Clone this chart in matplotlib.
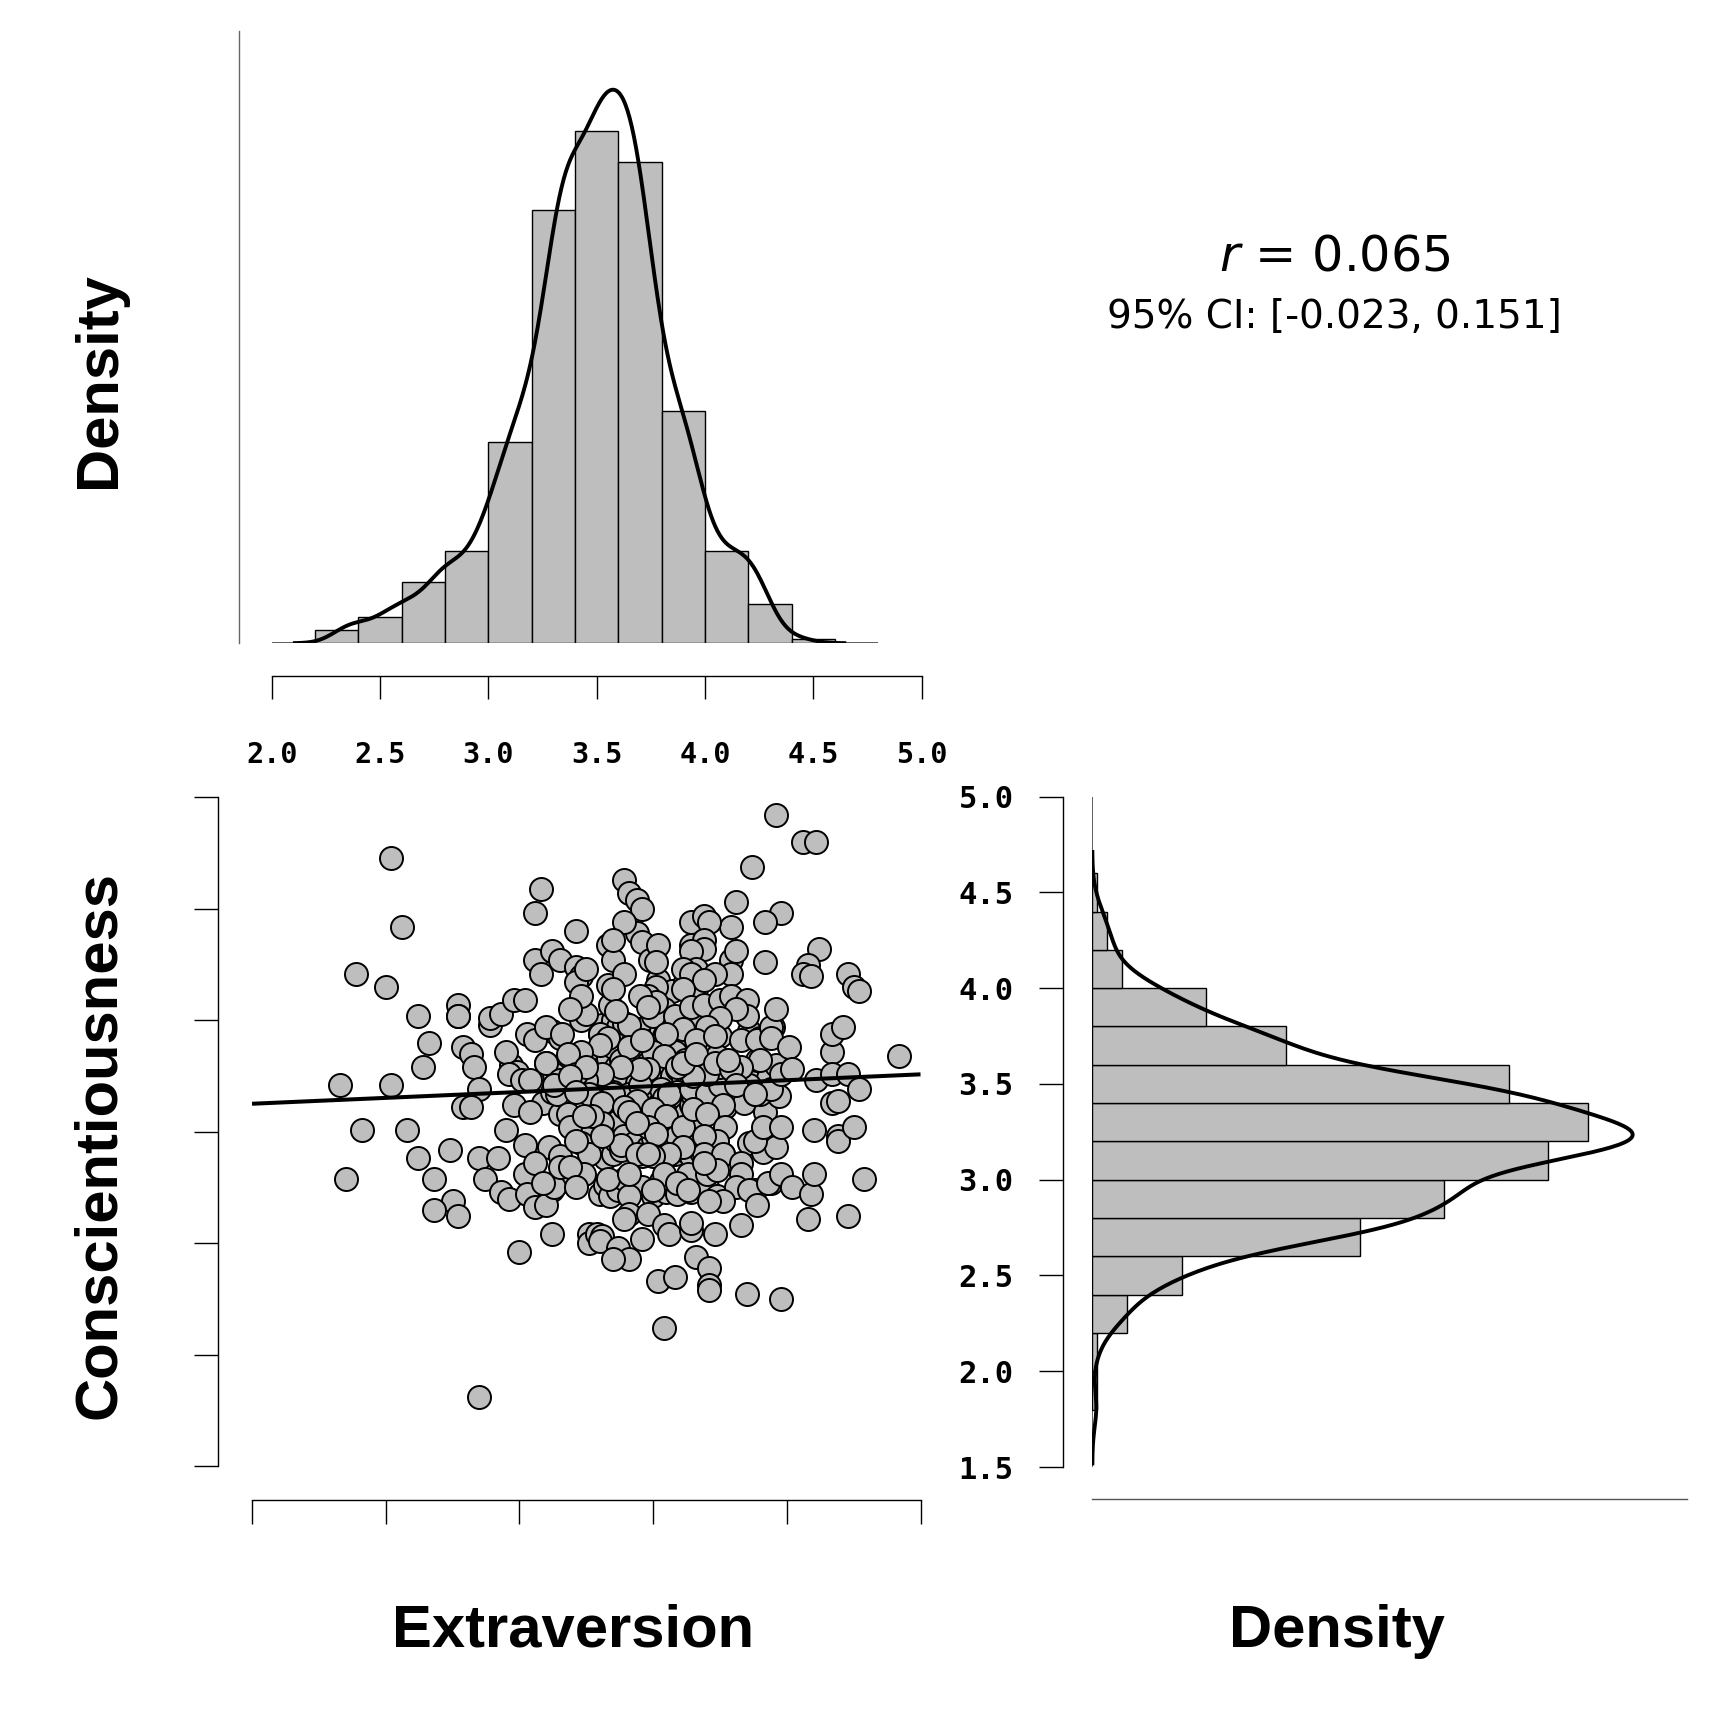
import numpy as np
import matplotlib
matplotlib.use("Agg")
import matplotlib.pyplot as plt

# ---------------- data (Extraversion = x, Conscientiousness = y), N = 500 ----------------
# dense core (mostly hidden under other points)
core1_x = [3.33, 3.52, 3.57, 3.62, 3.66]
core1_y = [3.66, 3.68, 3.63, 3.67, 3.64]
core2_x = [3.12, 3.15,
           3.30, 3.31, 3.33, 3.34, 3.35, 3.36, 3.37, 3.38, 3.39,
           3.43, 3.45, 3.47, 3.49, 3.50, 3.52, 3.53, 3.54, 3.55, 3.56, 3.57, 3.58, 3.59,
           3.61, 3.62, 3.63, 3.64, 3.65, 3.66, 3.68, 3.69, 3.71, 3.73, 3.75,
           3.86, 3.90, 3.95]
core2_y = [3.45, 3.42,
           3.44, 3.48, 3.41, 3.46, 3.50, 3.43, 3.47, 3.42, 3.49,
           3.42, 3.46, 3.44, 3.49, 3.41, 3.51, 3.45, 3.43, 3.48, 3.42, 3.47, 3.50, 3.44,
           3.43, 3.47, 3.41, 3.49, 3.45, 3.42, 3.48, 3.44, 3.46, 3.50, 3.43,
           3.45, 3.42, 3.47]
core3_x = [3.10, 3.13, 3.16,
           3.29, 3.30, 3.31, 3.32, 3.33, 3.34, 3.35, 3.36, 3.37, 3.38, 3.39,
           3.42, 3.44, 3.45, 3.47, 3.48, 3.49, 3.50, 3.51, 3.52, 3.53, 3.54, 3.55, 3.56, 3.57, 3.58, 3.59,
           3.61, 3.62, 3.63, 3.64, 3.65, 3.66, 3.67, 3.68, 3.70, 3.72, 3.74, 3.76,
           3.85, 3.89, 3.93, 3.96]
core3_y = [3.31, 3.26, 3.22,
           3.27, 3.35, 3.23, 3.30, 3.33, 3.25, 3.38, 3.29, 3.21, 3.32, 3.24,
           3.29, 3.22, 3.34, 3.27, 3.31, 3.21, 3.37, 3.28, 3.24, 3.33, 3.26, 3.23, 3.30, 3.25, 3.36, 3.28,
           3.24, 3.32, 3.28, 3.22, 3.31, 3.26, 3.36, 3.27, 3.30, 3.23, 3.34, 3.29,
           3.27, 3.32, 3.24, 3.30]
core4_x = [3.09, 3.12, 3.15,
           3.27, 3.28, 3.29, 3.30, 3.31, 3.32, 3.33, 3.34, 3.35, 3.36, 3.37, 3.38, 3.39,
           3.41, 3.43, 3.44, 3.46, 3.47, 3.48, 3.49, 3.50, 3.51, 3.52, 3.53, 3.54, 3.55, 3.56, 3.57, 3.58, 3.59,
           3.61, 3.62, 3.63, 3.64, 3.65, 3.66, 3.67, 3.69, 3.71, 3.73, 3.75, 3.77,
           3.84, 3.88, 3.92, 3.97]
core4_y = [3.13, 3.18, 3.08,
           3.16, 3.10, 3.19, 3.06, 3.14, 3.12, 3.17, 3.08, 3.18, 3.13, 3.05, 3.15, 3.11,
           3.17, 3.09, 3.14, 3.19, 3.07, 3.13, 3.18, 3.10, 3.16, 3.12, 3.19, 3.15, 3.06, 3.17, 3.04, 3.14, 3.18,
           3.15, 3.08, 3.18, 3.12, 3.16, 3.06, 3.19, 3.13, 3.10, 3.17, 3.14, 3.11,
           3.13, 3.17, 3.09, 3.16]
core5_x = [3.11, 3.15,
           3.28, 3.30, 3.32, 3.33, 3.35, 3.36, 3.38, 3.39,
           3.43, 3.46, 3.48, 3.50, 3.52, 3.53, 3.54, 3.55, 3.56, 3.58, 3.59,
           3.61, 3.63, 3.64, 3.66, 3.68, 3.70, 3.73, 3.76,
           3.86, 3.91, 3.96]
core5_y = [2.93, 2.89,
           2.91, 2.97, 2.88, 2.94, 2.90, 2.96, 2.92, 2.98,
           2.95, 2.89, 2.93, 2.97, 2.91, 2.88, 2.96, 2.92, 2.94, 2.90, 2.98,
           2.92, 2.96, 2.89, 2.94, 2.91, 2.97, 2.93, 2.90,
           2.95, 2.91, 2.93]
core6_x = [3.12, 3.16, 3.30, 3.32, 3.34, 3.36, 3.37, 3.39,
           3.46, 3.50, 3.53, 3.55, 3.57, 3.59, 3.62, 3.64, 3.67, 3.70, 3.74, 3.88, 3.94]
core6_y = [2.74, 2.78, 2.72, 2.76, 2.71, 2.77, 2.74, 2.79,
           2.75, 2.71, 2.78, 2.73, 2.76, 2.72, 2.77, 2.73, 2.79, 2.75, 2.71, 2.74, 2.77]

# visible points, by region
left_x = [2.52, 2.56, 2.39, 2.50, 2.62, 2.77, 2.77, 2.66, 2.79, 2.82, 2.83, 2.64, 2.33, 2.52, 2.85,
          2.79, 2.41, 2.58, 2.35, 2.62, 2.74, 2.68, 2.75, 2.68, 2.77, 2.85, 2.92, 2.87, 2.93, 2.96,
          2.85, 3.00, 2.89, 2.89, 2.93, 2.98, 3.02, 2.82, 2.95, 3.02, 2.77, 2.97, 2.98]
left_y = [4.23, 3.92, 3.71, 3.65, 3.52, 3.57, 3.52, 3.40, 3.38, 3.35, 3.29, 3.29, 3.21, 3.21, 3.19,
          3.11, 3.01, 3.01, 2.79, 2.88, 2.92, 2.79, 2.69, 2.65, 2.62, 2.88, 2.88, 2.79, 2.73, 2.70,
          1.81, 2.46, 3.48, 3.51, 3.53, 3.59, 3.59, 3.11, 3.01, 2.94, 3.52, 3.30, 3.12]
upmid_x = [3.08, 3.06, 3.21, 3.06, 3.12, 3.08, 3.15, 3.21, 3.23, 3.21, 3.25, 3.33, 3.35, 3.39, 3.44,
           3.46, 3.49, 3.39, 3.41, 3.44, 3.46, 3.39, 3.52, 3.51, 3.35]
upmid_y = [4.09, 3.98, 3.90, 3.77, 3.81, 3.71, 3.77, 3.74, 3.70, 3.67, 3.73, 3.84, 3.77, 3.71, 3.89,
           3.85, 3.77, 4.13, 4.07, 4.04, 4.00, 3.94, 3.84, 3.76, 3.86]
upright_x = [3.96, 4.06, 4.11, 3.87, 3.81, 3.98, 3.92, 3.79, 3.64, 3.69, 3.71, 3.64, 3.69, 3.69, 3.64,
             3.79, 3.81, 3.79, 3.92, 4.12, 4.08, 4.06, 4.09, 4.23, 4.25, 4.27, 3.66, 3.61, 3.64, 3.73, 3.69]
upright_y = [4.42, 4.30, 4.30, 4.19, 4.03, 3.98, 3.94, 3.92, 3.94, 3.97, 3.94, 3.84, 3.86, 3.82, 3.81,
             3.77, 3.81, 3.71, 3.76, 3.82, 3.75, 3.71, 3.70, 3.71, 3.65, 3.63, 3.73, 3.73, 3.71, 3.71, 3.68]
band1_x = [3.61, 3.51, 3.48, 3.54, 3.50, 3.58, 3.64, 3.69, 3.75, 3.79, 3.85, 3.85, 3.81, 3.75, 3.70,
           3.61, 3.55, 3.66, 3.73, 3.83, 3.89, 3.94, 3.94, 3.96, 4.01, 3.51, 3.41, 3.34, 3.35, 3.23,
           3.25, 3.30, 3.33, 3.41, 3.50, 3.54, 4.17, 4.17, 4.21, 3.23, 3.03, 3.06, 3.10, 3.16, 3.19,
           3.36, 3.45, 3.48, 3.46, 3.30, 3.23, 3.18, 2.95]
band1_y = [3.64, 3.65, 3.61, 3.55, 3.52, 3.52, 3.56, 3.57, 3.59, 3.61, 3.59, 3.52, 3.55, 3.51, 3.47,
           3.46, 3.44, 3.41, 3.43, 3.41, 3.41, 3.47, 3.42, 3.55, 3.38, 3.58, 3.48, 3.57, 3.64, 3.50,
           3.53, 3.44, 3.42, 3.38, 3.36, 3.34, 3.36, 3.44, 3.47, 3.61, 3.44, 3.41, 3.47, 3.44, 3.55,
           3.54, 3.61, 3.56, 3.41, 3.39, 3.36, 3.35, 3.36]
band2_x = [3.48, 3.45, 3.56, 3.64, 3.70, 3.75, 3.81, 3.86, 3.90, 3.94, 3.98, 4.02, 4.11, 3.90, 3.83,
           3.75, 3.70, 3.65, 3.59, 3.61, 3.66, 3.73, 3.79, 3.45, 3.38, 3.31, 3.25, 3.35, 3.44, 3.78,
           3.81, 3.76, 3.88, 4.17, 4.23, 4.27, 4.17, 4.19, 4.42, 3.10, 2.99, 2.96, 3.01, 3.04, 3.15,
           3.21, 3.25, 3.14, 3.13, 3.26, 3.31, 3.39, 3.19, 3.21]
band2_y = [3.28, 3.21, 3.17, 3.19, 3.17, 3.21, 3.25, 3.21, 3.17, 3.19, 3.26, 3.28, 3.23, 3.32, 3.29,
           3.29, 3.26, 3.25, 3.29, 3.31, 3.35, 3.31, 3.28, 3.28, 3.29, 3.26, 3.23, 3.17, 3.14, 3.32,
           3.21, 3.12, 3.17, 3.26, 3.26, 3.19, 3.13, 3.14, 3.34, 3.31, 3.27, 3.26, 3.23, 3.23, 3.23,
           3.26, 3.29, 3.17, 3.21, 3.17, 3.13, 3.11, 3.25, 3.18]
band3_x = [3.50, 3.55, 3.48, 3.51, 3.61, 3.65, 3.70, 3.77, 3.74, 3.69, 3.69, 3.61, 3.56, 3.50, 3.76,
           3.88, 3.91, 3.98, 4.10, 4.19, 4.19, 4.25, 3.41, 3.38, 3.31, 3.25, 3.23, 3.44, 3.48, 3.26,
           3.04, 3.18, 3.19, 3.21, 3.27, 3.31, 3.44, 3.24]
band3_y = [3.10, 3.07, 3.02, 2.99, 3.02, 3.10, 3.08, 3.02, 2.96, 2.98, 2.90, 2.93, 2.90, 2.89, 2.90,
           2.96, 3.02, 3.02, 3.01, 2.98, 2.96, 3.02, 3.09, 2.94, 3.04, 2.99, 2.95, 2.90, 2.90, 2.90,
           3.09, 3.08, 3.02, 2.96, 3.07, 2.98, 3.04, 3.07]
band4_x = [3.54, 3.63, 3.59, 3.50, 3.70, 3.74, 3.83, 3.83, 3.81, 3.86, 3.76, 3.71, 3.63, 3.93, 3.98,
           4.02, 3.89, 4.09, 4.10, 3.69, 3.41, 3.33, 3.41, 3.24, 4.29, 3.02, 3.03, 3.06, 3.10, 3.13,
           3.15, 3.41, 3.06, 3.09, 3.19, 3.21]
band4_y = [2.81, 2.81, 2.77, 2.74, 2.81, 2.83, 2.86, 2.81, 2.75, 2.74, 2.69, 2.69, 2.74, 2.77, 2.81,
           2.75, 2.67, 2.72, 2.81, 2.86, 2.71, 2.79, 2.81, 2.81, 2.79, 2.81, 2.72, 2.66, 2.67, 2.75,
           2.84, 2.63, 2.86, 2.77, 2.84, 2.75]
bottom_x = [3.12, 3.26, 3.26, 3.29, 3.31, 3.30, 3.37, 3.41, 3.35, 3.39, 3.48, 3.46, 3.54, 3.56, 3.64,
            3.64, 3.73, 3.83, 4.08, 4.23, 3.66, 3.71, 3.71, 3.71, 3.52, 3.58, 3.85, 3.98, 3.54]
bottom_y = [2.54, 2.54, 2.50, 2.54, 2.53, 2.51, 2.48, 2.43, 2.43, 2.61, 2.63, 2.52, 2.58, 2.54, 2.56,
            2.59, 2.54, 2.58, 2.61, 2.62, 2.44, 2.39, 2.31, 2.29, 2.33, 2.35, 2.27, 2.25, 2.12]

# axes / histogram settings
extraversion_breaks = [2.2, 2.4, 2.6, 2.8, 3.0, 3.2, 3.4, 3.6, 3.8, 4.0, 4.2, 4.4, 4.6]
conscientiousness_breaks = [1.8, 2.0, 2.2, 2.4, 2.6, 2.8, 3.0, 3.2, 3.4, 3.6, 3.8, 4.0, 4.2, 4.4, 4.6]
top_ticks = [2.0, 2.5, 3.0, 3.5, 4.0, 4.5, 5.0]
top_tick_labels = ["2.0", "2.5", "3.0", "3.5", "4.0", "4.5", "5.0"]
top_baseline = [2.0, 4.8]
top_density_max = 1.4
scatter_xticks = [2.0, 2.5, 3.0, 3.5, 4.0, 4.5]
scatter_yticks = [1.5, 2.0, 2.5, 3.0, 3.5, 4.0, 4.5]
right_ticks = [1.5, 2.0, 2.5, 3.0, 3.5, 4.0, 4.5, 5.0]
right_tick_labels = ["1.5", "2.0", "2.5", "3.0", "3.5", "4.0", "4.5", "5.0"]
right_density_max = 1.2
r_text = "0.065"
ci_text = "95% CI: [-0.023, 0.151]"
x_label = "Extraversion"
y_label = "Conscientiousness"
density_label = "Density"

# ---------------- helpers ----------------
x = np.array(core1_x + core2_x + core3_x + core4_x + core5_x + core6_x +
             left_x + upmid_x + upright_x + band1_x + band2_x + band3_x + band4_x + bottom_x)
y = np.array(core1_y + core2_y + core3_y + core4_y + core5_y + core6_y +
             left_y + upmid_y + upright_y + band1_y + band2_y + band3_y + band4_y + bottom_y)


def bw_nrd0(v):
    sd = np.std(v, ddof=1)
    q75, q25 = np.percentile(v, [75, 25])
    return 0.9 * min(sd, (q75 - q25) / 1.34) * len(v) ** -0.2


def kde(v, n=512, cut=3):
    bw = bw_nrd0(v)
    grid = np.linspace(v.min() - cut * bw, v.max() + cut * bw, n)
    d = np.exp(-0.5 * ((grid[:, None] - v[None, :]) / bw) ** 2).sum(1) / (len(v) * bw * np.sqrt(2 * np.pi))
    return grid, d


def hist_density(v, edges):
    edges = np.asarray(edges)
    idx = np.searchsorted(edges, v, side="left") - 1   # right-closed bins (a, b]
    idx = np.clip(idx, 0, len(edges) - 2)
    counts = np.bincount(idx, minlength=len(edges) - 1)
    return counts / (len(v) * np.diff(edges))


BAR = "#BEBEBE"
LW_AX = 1.0
MONO = dict(fontfamily="DejaVu Sans Mono", fontweight="bold")

fig = plt.figure(figsize=(17.18, 17.18), dpi=100)

# ---------------- top marginal (Extraversion) ----------------
ax_t = fig.add_axes([0.1582, 0.6256, 0.3782, 0.3565])
ex = np.asarray(extraversion_breaks)
dx = hist_density(x, ex)
gx, kx = kde(x)
ax_t.bar(ex[:-1], dx, width=np.diff(ex), align="edge", color=BAR, edgecolor="black", linewidth=1.0, zorder=2)
ax_t.plot(gx, kx, color="black", lw=2.8, zorder=3, solid_capstyle="butt")
ax_t.hlines(0, top_baseline[0], top_baseline[1], color="#444444", lw=1.2, zorder=1)
ax_t.set_xlim(top_ticks[0], top_ticks[-1])
ax_t.set_ylim(0, top_density_max)
for s in ["top", "right"]:
    ax_t.spines[s].set_visible(False)
ax_t.spines["left"].set_position(("outward", 23.7))
ax_t.spines["left"].set_bounds(0, top_density_max)
ax_t.spines["left"].set_color("#666666")
ax_t.spines["bottom"].set_position(("outward", 23.7))
ax_t.spines["bottom"].set_bounds(top_ticks[0], top_ticks[-1])
for s in ["left", "bottom"]:
    ax_t.spines[s].set_linewidth(LW_AX)
ax_t.set_yticks([])
ax_t.set_xticks(top_ticks, labels=top_tick_labels, fontsize=20.5, **MONO)
ax_t.tick_params(axis="x", length=16.6, width=LW_AX, pad=30)
ax_t.patch.set_visible(False)

# ---------------- scatter ----------------
ax_s = fig.add_axes([0.1467, 0.1467, 0.3891, 0.3891])
ax_s.scatter(x, y, s=275, facecolor=BAR, edgecolor="black", linewidths=1.4, zorder=2, clip_on=False)
slope, intercept = np.polyfit(x, y, 1)
xl = np.array([scatter_xticks[0], scatter_xticks[-1]])
ax_s.plot(xl, intercept + slope * xl, color="black", lw=2.9, zorder=3, solid_capstyle="butt")
ax_s.set_xlim(scatter_xticks[0], scatter_xticks[-1])
ax_s.set_ylim(scatter_yticks[0], scatter_yticks[-1])
for s in ["top", "right"]:
    ax_s.spines[s].set_visible(False)
ax_s.spines["left"].set_position(("outward", 24.5))
ax_s.spines["bottom"].set_position(("outward", 24.5))
ax_s.spines["left"].set_bounds(scatter_yticks[0], scatter_yticks[-1])
ax_s.spines["bottom"].set_bounds(scatter_xticks[0], scatter_xticks[-1])
for s in ["left", "bottom"]:
    ax_s.spines[s].set_linewidth(LW_AX)
ax_s.set_xticks(scatter_xticks, labels=[])
ax_s.set_yticks(scatter_yticks, labels=[])
ax_s.tick_params(length=17.4, width=LW_AX)
ax_s.patch.set_visible(False)

# ---------------- right marginal (Conscientiousness) ----------------
ax_r = fig.add_axes([0.6358, 0.1461, 0.3463, 0.3902])
ey = np.asarray(conscientiousness_breaks)
dy = hist_density(y, ey)
gy, ky = kde(y)
ax_r.barh(ey[:-1], dy, height=np.diff(ey), align="edge", color=BAR, edgecolor="black", linewidth=1.0, zorder=2)
ax_r.plot(ky, gy, color="black", lw=2.8, zorder=3, solid_capstyle="butt")
ax_r.vlines(0, right_ticks[0], right_ticks[-1], color="#444444", lw=1.2, zorder=1)
ax_r.set_ylim(right_ticks[0], right_ticks[-1])
ax_r.set_xlim(0, right_density_max)
for s in ["top", "right"]:
    ax_r.spines[s].set_visible(False)
ax_r.spines["left"].set_position(("outward", 21.3))
ax_r.spines["left"].set_bounds(right_ticks[0], right_ticks[-1])
ax_r.spines["bottom"].set_position(("outward", 22.9))
ax_r.spines["bottom"].set_bounds(0, right_density_max)
for s in ["left", "bottom"]:
    ax_r.spines[s].set_linewidth(LW_AX)
ax_r.spines["bottom"].set_color("#555555")
ax_r.set_xticks([])
ax_r.set_yticks(right_ticks, labels=right_tick_labels, fontsize=22, **MONO)
ax_r.tick_params(axis="y", length=17.4, width=LW_AX, pad=18)
ax_r.patch.set_visible(False)

# ---------------- texts ----------------
LAB = dict(fontsize=43, fontweight="bold", fontfamily=["Liberation Sans", "DejaVu Sans"])
fig.text(0.0668, 0.779, density_label, rotation=90, rotation_mode="anchor", ha="center", va="baseline", **LAB)
fig.text(0.0668, 0.3335, y_label, rotation=90, rotation_mode="anchor", ha="center", va="baseline", **LAB)
fig.text(0.3336, 0.0414, x_label, ha="center", va="baseline", **LAB)
fig.text(0.778, 0.0414, density_label, ha="center", va="baseline", **LAB)

fig.text(0.777, 0.8423, r"$r$ = " + r_text, ha="center", va="baseline", fontsize=35.5, fontfamily="DejaVu Sans")
fig.text(0.777, 0.8091, ci_text, ha="center", va="baseline", fontsize=28, fontfamily="DejaVu Sans")

fig.savefig("out.png", dpi=100, facecolor="white")
